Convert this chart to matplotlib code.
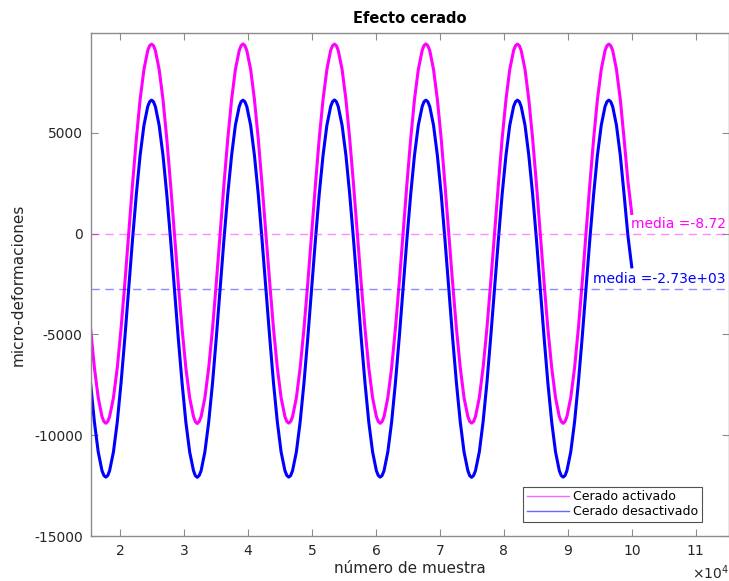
import numpy as np
import matplotlib
matplotlib.use("Agg")
import matplotlib.pyplot as plt
from matplotlib.lines import Line2D
from matplotlib.ticker import FuncFormatter

# ----------------- data -----------------
# one row per cycle (trough -> peak -> before next trough)
muestra = [
    15350, 15950, 16550, 17140,
    17440, 17740, 18040, 18330, 18930, 19530, 20120, 20720, 21310, 21910, 22510, 23100, 23700, 24290,
    24590, 24890, 25190, 25490, 26080, 26680, 27270, 27870, 28470, 29060, 29660, 30250, 30850, 31450,
    31740, 32040, 32340, 32640, 33230, 33830, 34430, 35020, 35620, 36210, 36810, 37410, 38000, 38600,
    38890, 39190, 39490, 39790, 40390, 40980, 41580, 42170, 42770, 43370, 43960, 44560, 45150, 45750,
    46050, 46350, 46650, 46940, 47540, 48130, 48730, 49330, 49920, 50520, 51110, 51710, 52310, 52900,
    53200, 53500, 53800, 54090, 54690, 55290, 55880, 56480, 57070, 57670, 58270, 58860, 59460, 60050,
    60350, 60650, 60950, 61250, 61840, 62440, 63030, 63630, 64230, 64820, 65420, 66010, 66610, 67210,
    67500, 67800, 68100, 68400, 68990, 69590, 70190, 70780, 71380, 71970, 72570, 73170, 73760, 74360,
    74650, 74950, 75250, 75550, 76150, 76740, 77340, 77930, 78530, 79130, 79720, 80320, 80910, 81510,
    81810, 82110, 82410, 82700, 83300, 83890, 84490, 85090, 85680, 86280, 86870, 87470, 88070, 88660,
    88960, 89260, 89560, 89850, 90450, 91050, 91640, 92240, 92830, 93430, 94030, 94620, 95220, 95810,
    96110, 96410, 96710, 97010, 97600, 98200, 98790, 99390, 99990,
]

cerado_activado = [
    -4700, -6650, -8140, -9080,
    -9320, -9410, -9320, -9080, -8140, -6650, -4700, -2430, 0, 2430, 4700, 6650, 8140, 9080,
    9320, 9400, 9320, 9080, 8140, 6650, 4700, 2430, 0, -2430, -4700, -6650, -8140, -9080,
    -9330, -9420, -9320, -9080, -8150, -6650, -4700, -2430, 10, 2430, 4700, 6650, 8140, 9080,
    9320, 9410, 9320, 9080, 8140, 6650, 4700, 2430, 0, -2430, -4700, -6650, -8140, -9080,
    -9320, -9400, -9320, -9080, -8140, -6660, -4700, -2430, 0, 2430, 4700, 6650, 8140, 9090,
    9320, 9400, 9320, 9080, 8140, 6650, 4700, 2430, 0, -2430, -4700, -6650, -8140, -9080,
    -9320, -9410, -9320, -9080, -8140, -6650, -4700, -2430, 0, 2430, 4700, 6650, 8140, 9080,
    9330, 9410, 9320, 9080, 8140, 6650, 4700, 2430, 0, -2430, -4700, -6650, -8140, -9080,
    -9320, -9400, -9320, -9080, -8140, -6650, -4700, -2430, 0, 2430, 4710, 6650, 8140, 9080,
    9320, 9400, 9320, 9080, 8140, 6650, 4700, 2430, 0, -2430, -4700, -6650, -8140, -9080,
    -9320, -9410, -9320, -9080, -8140, -6650, -4700, -2430, 0, 2430, 4700, 6650, 8140, 9080,
    9320, 9400, 9320, 9080, 8140, 6650, 4700, 2600, 1000,
]

cerado_desactivado = [
    -7400, -9340, -10830, -11760,
    -12000, -12080, -12000, -11760, -10830, -9340, -7400, -5150, -2730, -310, 1950, 3880, 5370, 6300,
    6540, 6620, 6540, 6300, 5370, 3880, 1950, -310, -2730, -5150, -7400, -9340, -10830, -11760,
    -12010, -12090, -12000, -11760, -10830, -9340, -7400, -5150, -2730, -310, 1950, 3880, 5370, 6300,
    6540, 6620, 6540, 6300, 5370, 3880, 1950, -310, -2730, -5150, -7400, -9340, -10830, -11760,
    -12000, -12080, -12000, -11760, -10830, -9340, -7400, -5150, -2730, -310, 1950, 3880, 5370, 6300,
    6550, 6630, 6540, 6300, 5370, 3880, 1950, -310, -2730, -5150, -7400, -9340, -10830, -11760,
    -12000, -12080, -12000, -11760, -10830, -9340, -7400, -5150, -2730, -310, 1950, 3880, 5370, 6300,
    6540, 6620, 6540, 6300, 5370, 3880, 1950, -310, -2730, -5150, -7400, -9340, -10830, -11760,
    -12010, -12090, -12000, -11760, -10830, -9340, -7400, -5150, -2730, -310, 1950, 3880, 5370, 6300,
    6540, 6620, 6540, 6300, 5370, 3880, 1950, -310, -2730, -5150, -7400, -9340, -10830, -11760,
    -12000, -12080, -12000, -11760, -10830, -9340, -7400, -5150, -2730, -310, 1950, 3880, 5370, 6300,
    6540, 6620, 6540, 6300, 5370, 3880, 1950, -100, -1650,
]

media_activado = -8.72
media_desactivado = -2730.0

series_labels = ["Cerado activado", "Cerado desactivado"]
y_ticks = [-15000, -10000, -5000, 0, 5000]
x_ticks = [20000, 30000, 40000, 50000, 60000, 70000, 80000, 90000, 100000, 110000]

# ----------------- figure -----------------
plt.rcParams["axes.unicode_minus"] = False
plt.rcParams["font.family"] = "DejaVu Sans"

fig = plt.figure(figsize=(7.29, 5.81), dpi=100)
ax = fig.add_axes([91 / 729, 1 - 536 / 581, 638 / 729, 503 / 581])

ax.plot(muestra, cerado_activado, color="#ff00ff", lw=2.2, solid_joinstyle="round")
ax.plot(muestra, cerado_desactivado, color="#0000ff", lw=2.2, solid_joinstyle="round")

ax.axhline(media_activado, color="#ff00ff", alpha=0.45, lw=1.0, ls=(0, (6, 4)))
ax.axhline(media_desactivado, color="#0000ff", alpha=0.45, lw=1.0, ls=(0, (6, 4)))

ax.text(114700, 500, f"media ={media_activado:.2f}", color="#ff00ff",
        fontsize=10, ha="right", va="center")
ax.text(114700, -2250, f"media ={media_desactivado:.2e}", color="#0000ff",
        fontsize=10, ha="right", va="center")

ax.set_xlim(15420, 115200)
ax.set_ylim(-15000, 9950)
ax.set_xticks(x_ticks)
ax.set_yticks(y_ticks)
ax.xaxis.set_major_formatter(FuncFormatter(lambda v, p: f"{v / 1e4:g}"))

ax.tick_params(direction="in", length=5, top=True, right=True, color="#8c8c8c",
               labelcolor="#262626", labelsize=10, pad=6)
for s in ax.spines.values():
    s.set_color("#8c8c8c")
    s.set_linewidth(1.0)

ax.text(1.0, -0.072, r"$\times10^{4}$", transform=ax.transAxes, ha="right",
        va="center", fontsize=10, color="#262626")

ax.set_title("Efecto cerado", fontsize=10.5, fontweight="bold", pad=7)
ax.set_xlabel("número de muestra", fontsize=11, color="#262626", labelpad=2)
ax.set_ylabel("micro-deformaciones", fontsize=11, color="#262626", labelpad=6)

handles = [Line2D([], [], color="#ff66ff", lw=1.0),
           Line2D([], [], color="#6666ff", lw=1.0)]
leg = ax.legend(handles, series_labels, loc="lower right",
                bbox_to_anchor=(702 / 729, 1 - 522 / 581), bbox_transform=fig.transFigure,
                borderaxespad=0, fontsize=9, frameon=True, fancybox=False,
                handlelength=3.4, handletextpad=0.3, labelspacing=0.15, borderpad=0.3)
leg.get_frame().set_edgecolor("#262626")
leg.get_frame().set_linewidth(0.8)

fig.savefig("out.png", dpi=100)
